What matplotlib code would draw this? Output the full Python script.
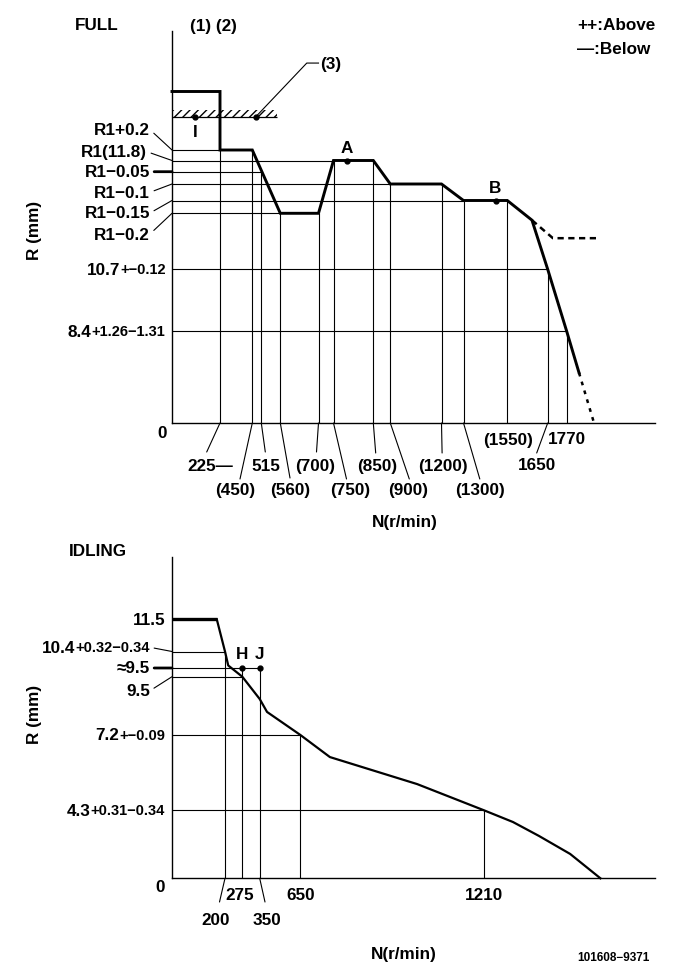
import numpy as np
import matplotlib
matplotlib.use("Agg")
from matplotlib import pyplot as plt

plt.rcParams['font.family'] = ['Liberation Sans', 'DejaVu Sans']
plt.rcParams['font.weight'] = 'bold'
plt.rcParams['hatch.linewidth'] = 1.0

W, H = 681, 979
FS = 12.3
FS_SMALL = 10.5

# ---------------- FULL (rack R in mm vs pump speed N) ----------------
full_rpm = [0, 225, 225, 450, 560, 700, 750, 850, 900, 1200, 1300, 1550, 1611, 1650, 1770, 1844]
full_r = [12.8, 12.8, 12.0, 12.0, 11.6, 11.6, 11.8, 11.8, 11.7, 11.7, 11.65, 11.65, 11.49, 10.7, 8.4, 4.6]
full_tail_rpm = [1844, 1934]
full_tail_r = [4.6, 0.0]
below_rpm = [1611, 1683, 1958]
below_r = [11.49, 11.2, 11.2]
stop_rpm = [0, 551]
stop_r = 12.4
stop_hatch_top = 12.5
leader3_rpm = [477, 657, 700]
leader3_r = [12.4, 13.27, 13.27]

full_levels = [12.0, 11.8, 11.75, 11.7, 11.65, 11.6, 10.7, 8.4]
full_level_end = [225, 750, 515, 900, 1300, 560, 1650, 1770]
full_ticks = [225, 450, 515, 560, 700, 750, 850, 900, 1200, 1300, 1550, 1650, 1770]
full_tick_top = [12.0, 12.0, 11.75, 11.6, 11.6, 11.8, 11.8, 11.7, 11.7, 11.65, 11.65, 10.7, 8.4]
full_tick_labels = ["225\u2014", "(450)", "515", "(560)", "(700)", "(750)", "(850)",
                    "(900)", "(1200)", "(1300)", "(1550)", "1650", "1770"]
full_points = {"A": (783, 11.8), "B": (1483, 11.65)}
point_I = (108, 12.4)

# ---------------- IDLING ----------------
idle_rpm = [0, 169, 200, 214, 275, 350, 404, 650, 740, 1006, 1210, 1298, 1377, 1472, 1564]
idle_r = [11.5, 11.5, 10.4, 9.68, 9.5, 8.62, 8.11, 7.2, 6.35, 5.31, 4.3, 3.56, 2.68, 1.54, 0.0]
idle_levels = [10.4, 9.55, 9.5, 7.2, 4.3]
idle_level_end = [200, 350, 275, 650, 1210]
idle_ticks = [200, 275, 350, 650, 1210]
idle_tick_top = [10.4, 9.55, 9.55, 7.2, 4.3]
idle_tick_labels = ["200", "275", "350", "650", "1210"]
idle_points = {"H": (275, 9.55), "J": (350, 9.55)}


def piece(vals, pos):
    vals = np.asarray(vals, float)
    pos = np.asarray(pos, float)
    return (lambda v: np.interp(v, vals, pos), lambda p: np.interp(p, pos, vals))


def make_ax(xk, xp, yk, yp):
    x0, x1 = xp[0], xp[-1]
    ybot, ytop = yp[0], yp[-1]
    ax = fig.add_axes([x0 / W, (H - ybot) / H, (x1 - x0) / W, (ybot - ytop) / H])
    ax.set_xscale('function', functions=piece(xk, xp))
    ax.set_yscale('function', functions=piece(yk, [H - p for p in yp]))
    ax.set_xlim(xk[0], xk[-1])
    ax.set_ylim(yk[0], yk[-1])
    ax.set_xticks([])
    ax.set_yticks([])
    ax.minorticks_off()
    for s in ['top', 'right']:
        ax.spines[s].set_visible(False)
    for s in ['left', 'bottom']:
        ax.spines[s].set_linewidth(1.0)
    ax.patch.set_alpha(0)
    return ax


def ylab(ax, level, text, dx, dy, tol=None, leader=None):
    kw = dict(xy=(0, level), xycoords=ax.get_yaxis_transform(), xytext=(dx, dy),
              textcoords='offset pixels', ha='right', va='center', annotation_clip=False)
    if leader:
        kw['arrowprops'] = dict(arrowstyle='-', lw=leader, color='k', shrinkA=1,
                                shrinkB=0, relpos=(1, 0.5))
    if tol is None:
        ax.annotate(text, fontsize=FS, **kw)
        return
    t = ax.annotate(tol, fontsize=FS_SMALL, **kw)
    ax.annotate(text, xy=(0, 0.5), xycoords=t, ha='right', va='center', fontsize=FS)


def xlab(ax, rpm, text, tdx, tdy, ldx=None, ldy=None):
    tr = ax.get_xaxis_transform()
    ax.annotate(text, xy=(rpm, 0), xycoords=tr, xytext=(tdx, tdy),
                textcoords='offset pixels', ha='center', va='center', fontsize=FS,
                annotation_clip=False)
    if ldx is not None:
        ax.annotate('', xy=(rpm, 0), xycoords=tr, xytext=(ldx, ldy), textcoords='offset pixels',
                    arrowprops=dict(arrowstyle='-', lw=0.8, color='k', shrinkA=0, shrinkB=0),
                    annotation_clip=False)


def px(x, y):
    return x / W, 1 - y / H


fig = plt.figure(figsize=(W / 100, H / 100), dpi=100)

# ======================= FULL =======================
ax1 = make_ax([0, 225, 450, 515, 560, 700, 750, 850, 900, 1200, 1300, 1550, 1650, 1770, 2300],
              [172, 220, 252.3, 261.3, 280.3, 318.5, 333.5, 373.3, 390.3, 441.5, 463.5, 507.3, 547.7, 566.7, 655],
              [0, 8.4, 10.7, 11.6, 11.65, 11.7, 11.75, 11.8, 12.0, 12.4, 12.8, 13.8],
              [424, 332.3, 270.3, 214.3, 201.5, 185, 172.7, 161.5, 151, 117.5, 92.5, 32])

ax1.hlines(full_levels, 0, full_level_end, color='k', lw=0.8)
ax1.vlines(full_ticks, 0, full_tick_top, color='k', lw=0.8)
ax1.plot(full_rpm, full_r, color='k', lw=2.1, clip_on=False, solid_joinstyle='miter')
ax1.plot(full_tail_rpm, full_tail_r, color='k', lw=1.8, ls=(0, (1.5, 2.2)), clip_on=False)
ax1.plot(below_rpm, below_r, color='k', lw=1.8, ls=(0, (2.5, 1.8)), clip_on=False)

# stopper line with hatching
ax1.hlines(stop_r, stop_rpm[0], stop_rpm[1], color='k', lw=0.9)
ax1.fill_between(stop_rpm, stop_r, stop_hatch_top, facecolor='none', edgecolor='k',
                 hatch='////', lw=0)
ax1.plot(leader3_rpm, leader3_r, color='k', lw=0.8)
ax1.plot(leader3_rpm[0], leader3_r[0], 'ko', ms=3.5)
ax1.annotate('(3)', xy=(leader3_rpm[-1], leader3_r[-1]), xytext=(2, 0),
             textcoords='offset pixels', ha='left', va='center', fontsize=FS)
ax1.plot(*point_I, 'ko', ms=3.5)
ax1.annotate('I', xy=point_I, xytext=(0, -15), textcoords='offset pixels',
             ha='center', va='center', fontsize=FS)

for name, (r, v) in full_points.items():
    ax1.plot(r, v, 'ko', ms=3.5)
    ax1.annotate(name, xy=(r, v), xytext=(0, 13), textcoords='offset pixels',
                 ha='center', va='center', fontsize=FS)

ylab(ax1, 12.0, 'R1+0.2', -22, 20.3, leader=0.8)
ylab(ax1, 11.8, 'R1(11.8)', -25, 8.8, leader=0.8)
ylab(ax1, 11.75, 'R1\u22120.05', -22, 0, leader=2.0)
ylab(ax1, 11.7, 'R1\u22120.1', -22, -8.3, leader=0.8)
ylab(ax1, 11.65, 'R1\u22120.15', -22, -12.5, leader=0.8)
ylab(ax1, 11.6, 'R1\u22120.2', -22, -20.7, leader=0.8)
ylab(ax1, 10.7, '10.7', -6, 0, tol='+\u22120.12')
ylab(ax1, 8.4, '8.4', -7, 0, tol='+1.26\u22121.31')
ax1.annotate('0', xy=(0, 0), xycoords='axes fraction', xytext=(-10, -10),
             textcoords='offset pixels', ha='center', va='center', fontsize=FS)

full_tick_offsets = [(-10, -42.7, -13.3, -29), (-17.3, -66.7, -12.3, -56),
                     (4.7, -42.7, 4, -29), (9.7, -66.7, 9.7, -55),
                     (-3.7, -42.7, -2, -29), (16.3, -66.7, 13, -56),
                     (3.4, -42.7, 2.4, -30), (18, -66.7, 19, -56),
                     (1.6, -42.7, 0.6, -30), (17, -66.7, 16.3, -56),
                     (0.4, -16, None, None), (-11, -42, -11, -30),
                     (0, -16, None, None)]
for rpm, lab, (tdx, tdy, ldx, ldy) in zip(full_ticks, full_tick_labels, full_tick_offsets):
    xlab(ax1, rpm, lab, tdx, tdy, ldx, ldy)

# ======================= IDLING =======================
ax2 = make_ax([0, 200, 275, 350, 650, 1210, 1730],
              [172, 225, 242.3, 259.7, 300.4, 484, 655],
              [0, 4.3, 7.2, 9.5, 9.55, 10.4, 11.5, 13.5],
              [879.3, 811.3, 736, 677.7, 669, 652.5, 620.3, 558])

ax2.hlines(idle_levels, 0, idle_level_end, color='k', lw=0.8)
ax2.vlines(idle_ticks, 0, idle_tick_top, color='k', lw=0.8)
ax2.plot(idle_rpm[:2], idle_r[:2], color='k', lw=2.4, clip_on=False, solid_capstyle='butt')
ax2.plot(idle_rpm[1:], idle_r[1:], color='k', lw=1.6, clip_on=False)
for name, (r, v) in idle_points.items():
    ax2.plot(r, v, 'ko', ms=3.5)
    ax2.annotate(name, xy=(r, v), xytext=(0, 14), textcoords='offset pixels',
                 ha='center', va='center', fontsize=FS)

ylab(ax2, 11.5, '11.5', -7, 0)
ylab(ax2, 10.4, '10.4', -22, 4.2, tol='+0.32\u22120.34', leader=0.8)
ylab(ax2, 9.55, '\u22489.5', -22, 0, leader=2.0)
ylab(ax2, 9.5, '9.5', -22, -14, leader=0.8)
ylab(ax2, 7.2, '7.2', -7, 0, tol='+\u22120.09')
ylab(ax2, 4.3, '4.3', -7, 0, tol='+0.31\u22120.34')
ax2.annotate('0', xy=(0, 0), xycoords='axes fraction', xytext=(-12, -8),
             textcoords='offset pixels', ha='center', va='center', fontsize=FS)

idle_tick_offsets = [(-9, -41.7, -5.5, -23.7), (-2.3, -16.4, None, None),
                     (6.8, -41.7, 5.3, -23.7), (0.6, -16.7, None, None),
                     (0, -16.7, None, None)]
for rpm, lab, (tdx, tdy, ldx, ldy) in zip(idle_ticks, idle_tick_labels, idle_tick_offsets):
    xlab(ax2, rpm, lab, tdx, tdy, ldx, ldy)

# ---------------- titles / axis names ----------------
fig.text(*px(97, 26), 'FULL', ha='center', va='center', fontsize=FS)
fig.text(*px(213, 26), '(1) (2)', ha='center', va='center', fontsize=FS)
fig.text(*px(577, 26), '++:Above', ha='left', va='center', fontsize=FS)
fig.text(*px(577, 49), '\u2014:Below', ha='left', va='center', fontsize=FS)
fig.text(*px(35, 230), 'R (mm)', ha='center', va='center', rotation=90, fontsize=FS)
fig.text(*px(405, 523), 'N(r/min)', ha='center', va='center', fontsize=FS)
fig.text(*px(98, 552), 'IDLING', ha='center', va='center', fontsize=FS)
fig.text(*px(35, 714), 'R (mm)', ha='center', va='center', rotation=90, fontsize=FS)
fig.text(*px(404, 955), 'N(r/min)', ha='center', va='center', fontsize=FS)
fig.text(*px(613, 958), '101608\u22129371', ha='center', va='center', fontsize=8.5)

fig.savefig('out.png', dpi=100)
